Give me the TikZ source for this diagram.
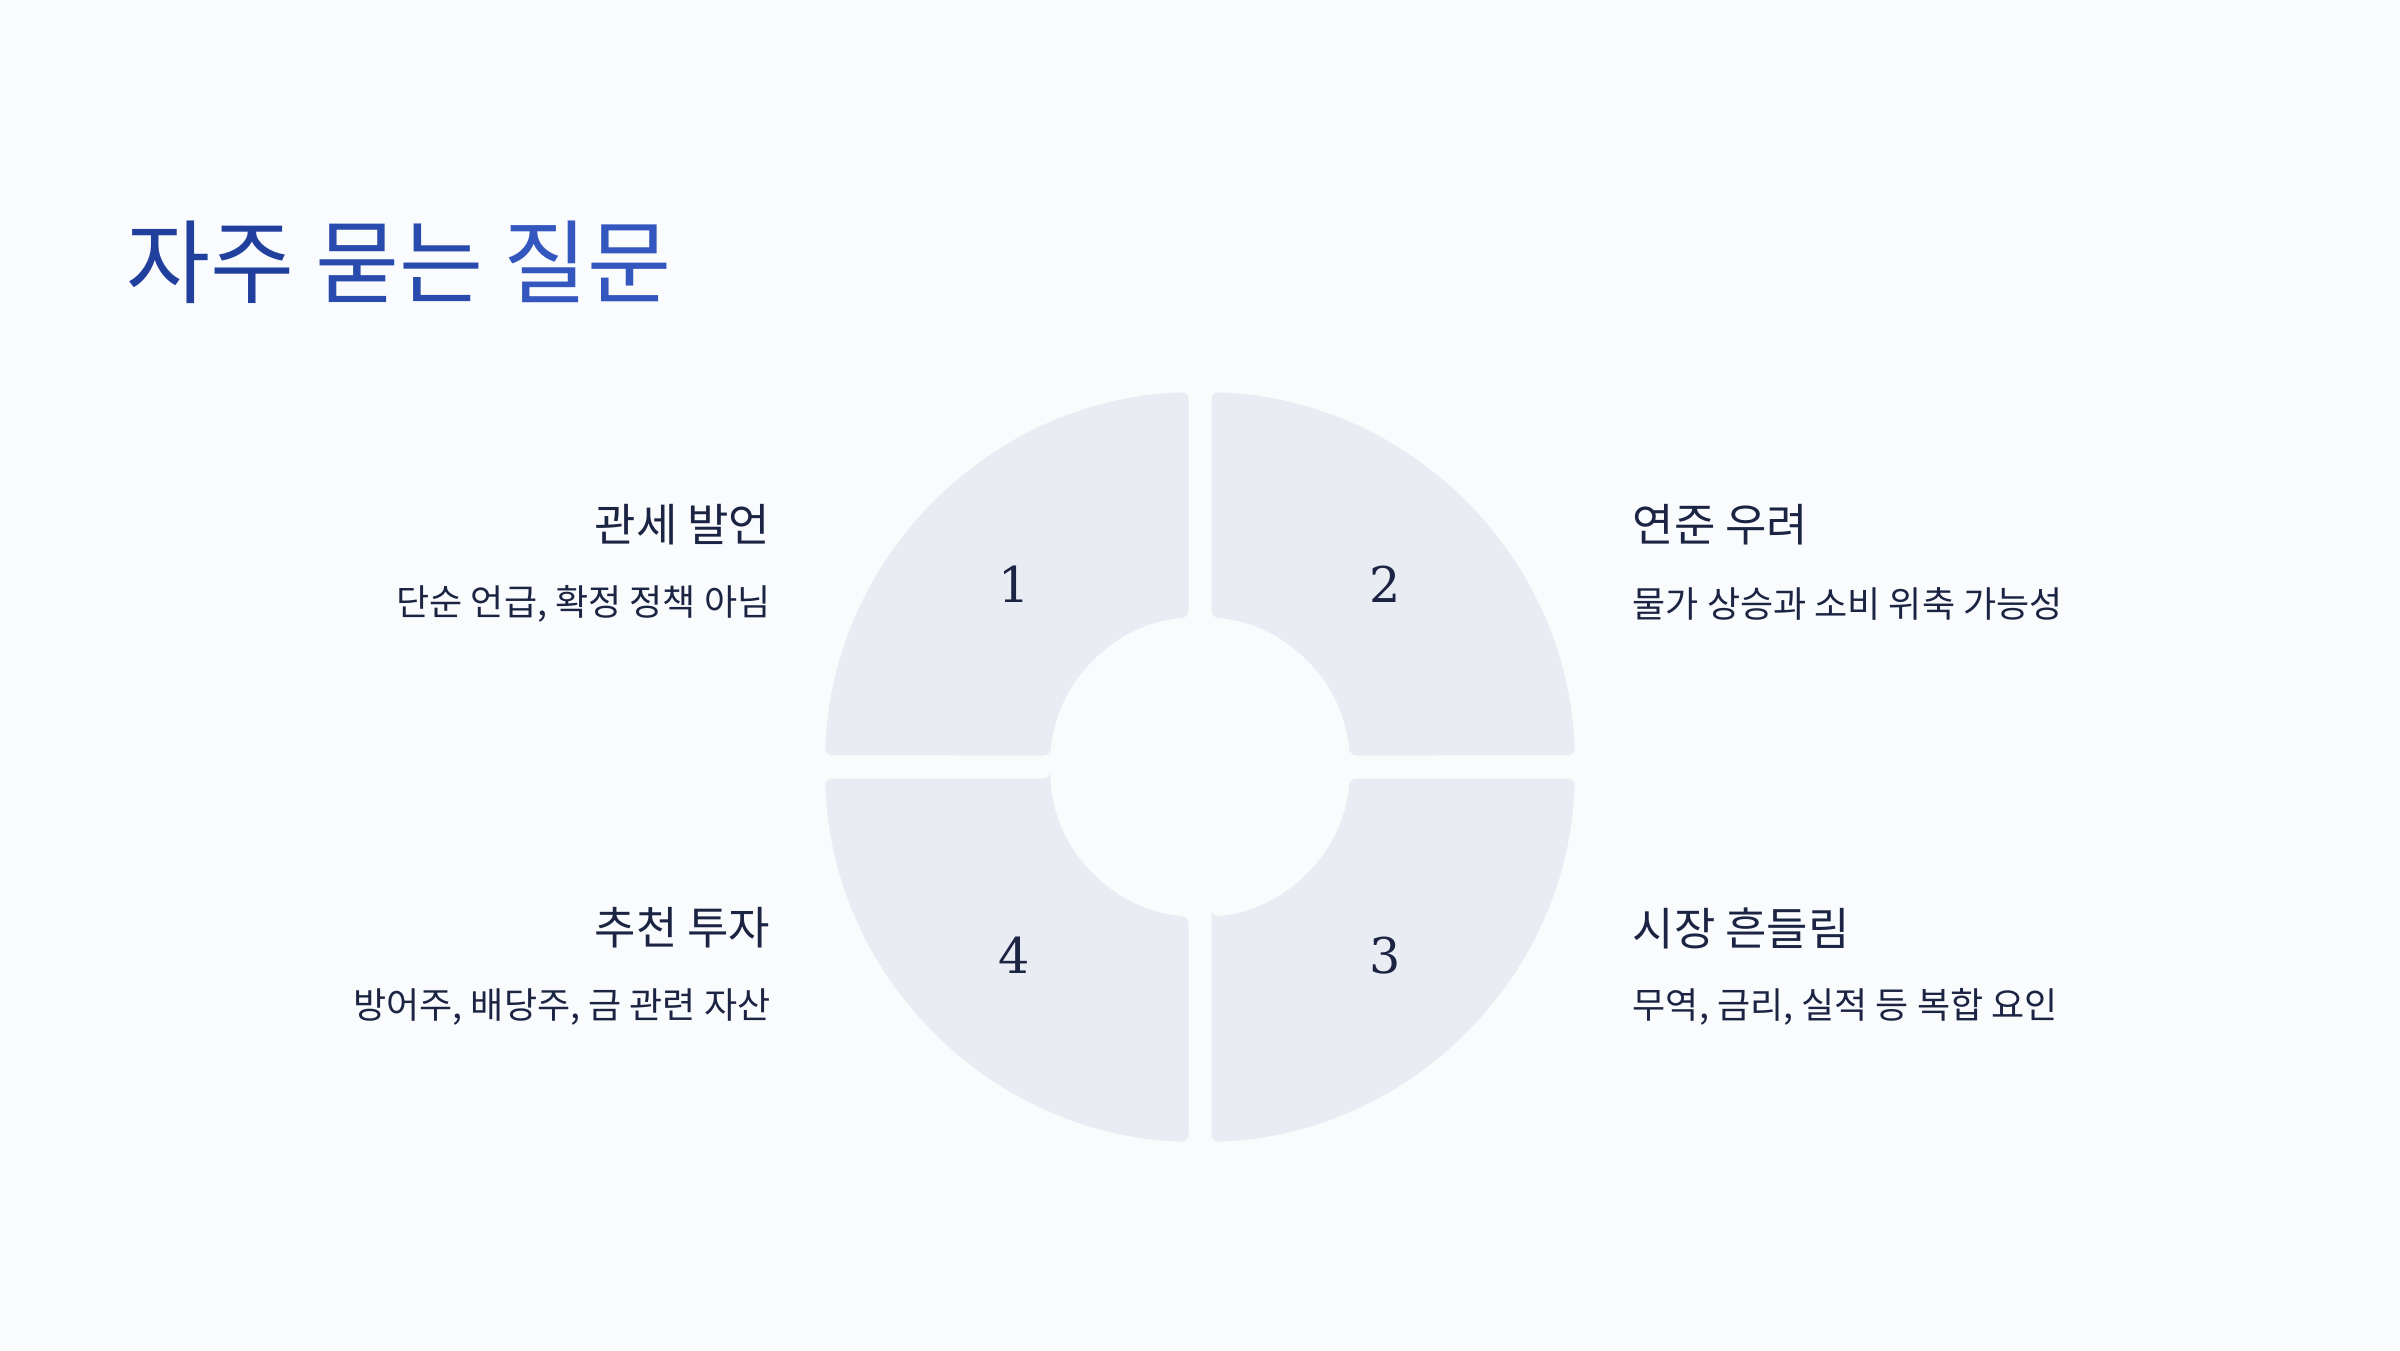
\documentclass[tikz,border=0pt]{standalone}
\usepackage{fontspec}
\setmainfont{Noto Sans CJK KR}
\newfontfamily\numfont{DejaVu Serif}
\definecolor{pagebg}{HTML}{FAFBFD}
\definecolor{segfill}{HTML}{EAECF3}
\definecolor{inkdark}{HTML}{1B2443}
\definecolor{titleA}{HTML}{213F9C}
\definecolor{titleB}{HTML}{2A4BAE}
\definecolor{titleC}{HTML}{3357BE}

\begin{document}
\begin{tikzpicture}[
  head/.style={font=\fontsize{12.8}{15}\selectfont, text=inkdark, inner sep=0pt},
  sub/.style={font=\fontsize{10.25}{12}\selectfont, text=inkdark, inner sep=0pt},
  num/.style={font=\numfont\fontsize{14}{16}\selectfont, text=inkdark, yshift=-0.03cm},
  seg/.style={fill=segfill, rounded corners=0.07cm}
]
\fill[pagebg] (0,0) rectangle (24,13.5);
\useasboundingbox (0,0) rectangle (24,13.5);
\node[anchor=west, inner sep=0pt, font=\fontsize{26}{30}\selectfont] (title) at (1.26,10.88)
  {\color{titleA}자주 \color{titleB}묻는 \color{titleC}질문};
% ring of four segments
\begin{scope}[shift={(12,5.83)}]
\foreach \rot/\n in {0/2,90/1,180/4,270/3}{
  \fill[seg, rotate=\rot] (4.4:1.5) -- (1.76:3.75) arc[start angle=1.76, end angle=88.24, radius=3.75]
    -- (85.6:1.5) arc[start angle=85.6, end angle=4.4, radius=1.5] -- cycle;
  \node[num] (n\n) at (\rot+45:2.625) {\n};
}
\end{scope}
% labels
\node[head, anchor=east] (h1) at (7.71,8.25) {관세 발언};
\node[sub, anchor=east] (s1) at (7.71,7.46) {단순 언급, 확정 정책 아님};
\node[head, anchor=west] (h2) at (16.32,8.25) {연준 우려};
\node[sub, anchor=west] (s2) at (16.32,7.46) {물가 상승과 소비 위축 가능성};
\node[head, anchor=east] (h4) at (7.71,4.22) {추천 투자};
\node[sub, anchor=east] (s4) at (7.71,3.43) {방어주, 배당주, 금 관련 자산};
\node[head, anchor=west] (h3) at (16.32,4.22) {시장 흔들림};
\node[sub, anchor=west] (s3) at (16.32,3.43) {무역, 금리, 실적 등 복합 요인};
\end{tikzpicture}
\end{document}
